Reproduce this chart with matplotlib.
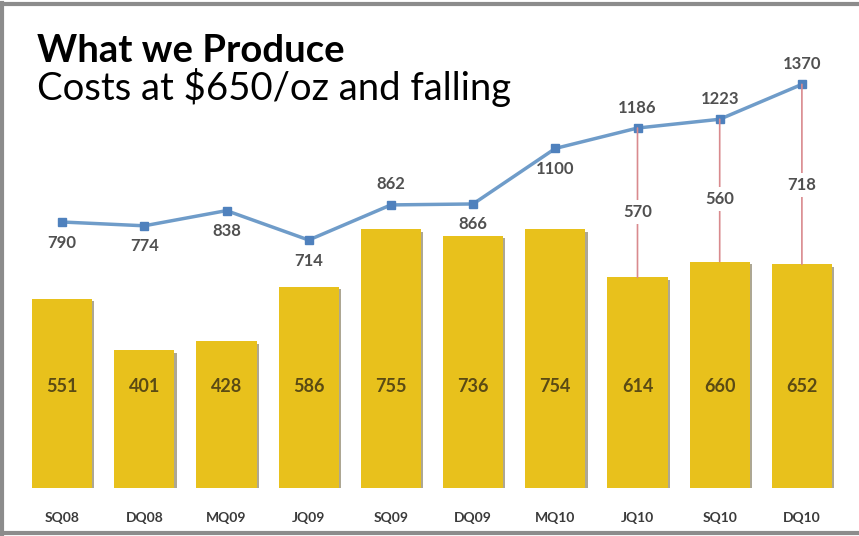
import matplotlib.pyplot as plt
import matplotlib.patheffects as pe
from matplotlib.patches import ConnectionPatch
from matplotlib.lines import Line2D

plt.rcParams['font.family'] = ['Lato', 'DejaVu Sans']

quarters = ['SQ08', 'DQ08', 'MQ09', 'JQ09', 'SQ09', 'DQ09', 'MQ10', 'JQ10', 'SQ10', 'DQ10']
production = [551, 401, 428, 586, 755, 736, 754, 614, 660, 652]
price = [790, 774, 838, 714, 862, 866, 1100, 1186, 1223, 1370]
price_label_above = [False, False, False, False, True, False, False, True, True, True]
margin_idx = [7, 8, 9]
margin = [570, 560, 718]

BAR_COLOR = '#e8c11c'
LINE_COLOR = '#6f9cc9'
MARKER_COLOR = '#4f81bd'
RED = '#d98a8e'

fig = plt.figure(figsize=(8.59, 5.36), dpi=100)
ax = fig.add_axes([21 / 859, 48 / 536, 822 / 859, 448 / 536])
x = range(len(quarters))

bars = ax.bar(x, production, width=0.73, color=BAR_COLOR, zorder=2)
for b in bars:
    b.set_path_effects([pe.SimplePatchShadow(offset=(1.6, -1.8), shadow_rgbFace='#4a3c10', alpha=0.45),
                        pe.Normal()])
ax.set_xlim(-0.5, len(quarters) - 0.5)
ax.set_ylim(0, 1306)

# value labels inside bars at a fixed height
for i, v in enumerate(production):
    ax.text(i, 295, str(v), ha='center', va='center', fontsize=13, fontweight='bold', color='#5a4a14')

ax.set_xticks(list(x))
ax.set_xticklabels(quarters, fontsize=10, fontweight='bold', color='#3a3a3a')
ax.tick_params(axis='x', length=0, pad=17)
ax.set_yticks([])
for s in ax.spines.values():
    s.set_visible(False)

ax2 = ax.twinx()
ax2.set_ylim(-331, 1557)
ax2.plot(x, price, color=LINE_COLOR, lw=2.5, marker='s', markersize=6,
         markerfacecolor=MARKER_COLOR, markeredgecolor=MARKER_COLOR, zorder=3)
ax2.set_yticks([])
for s in ax2.spines.values():
    s.set_visible(False)
for i, v in enumerate(price):
    if price_label_above[i]:
        ax2.annotate(str(v), (i, v), xytext=(0, 9), textcoords='offset points', ha='center', va='bottom',
                     fontsize=12, fontweight='bold', color='#505050')
    else:
        ax2.annotate(str(v), (i, v), xytext=(0, -9), textcoords='offset points', ha='center', va='top',
                     fontsize=12, fontweight='bold', color='#505050')

# margin connectors from price point down to bar top
for i, m in zip(margin_idx, margin):
    con = ConnectionPatch(xyA=(i, price[i]), coordsA=ax2.transData,
                          xyB=(i, production[i]), coordsB=ax.transData,
                          color=RED, lw=1.2, zorder=1)
    fig.add_artist(con)
    y_top = ax2.transData.transform((i, price[i]))[1]
    y_bot = ax.transData.transform((i, production[i]))[1]
    x_disp = ax.transData.transform((i, 0))[0]
    y_mid = y_top - 0.56 * (y_top - y_bot)
    fig.text(x_disp / fig.bbox.width, y_mid / fig.bbox.height, str(m), ha='center', va='center',
             fontsize=12, fontweight='bold', color='#505050', zorder=5,
             bbox=dict(boxstyle='square,pad=0.25', fc='white', ec='none'))

fig.text(37 / 859, 1 - 62 / 536, 'What we Produce', fontsize=27.5, fontweight='bold', color='black',
         ha='left', va='baseline')
fig.text(37 / 859, 1 - 100 / 536, 'Costs at $650/oz and falling', fontsize=27.5, color='black',
         ha='left', va='baseline')

# grey frame
frame_kw = dict(color='#8c8c8c', lw=3, transform=fig.transFigure)
fig.add_artist(Line2D([2 / 859, 2 / 859], [0, 1 - 3 / 536], **frame_kw))
fig.add_artist(Line2D([0, 1], [1 - 4 / 536, 1 - 4 / 536], **frame_kw))
fig.add_artist(Line2D([0, 1], [3 / 536, 3 / 536], **frame_kw))

fig.savefig('out.png', dpi=100)
